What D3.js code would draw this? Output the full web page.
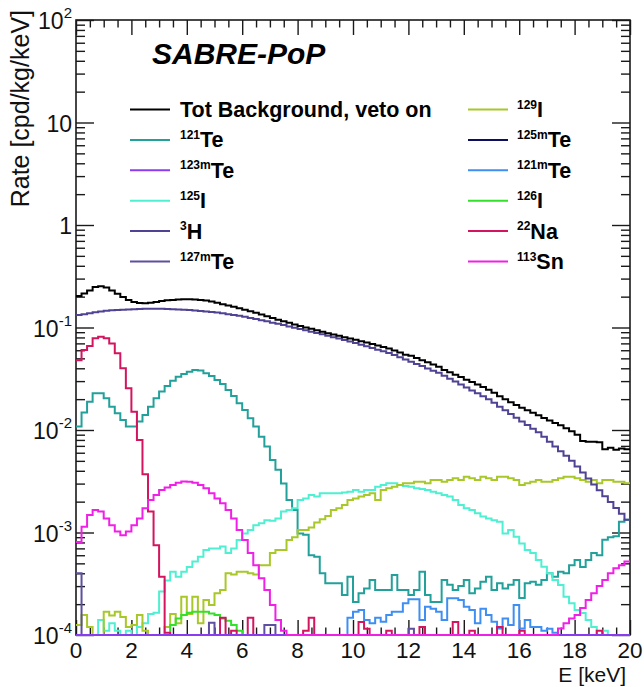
<!DOCTYPE html>
<html>
<head>
<meta charset="utf-8">
<script src="https://cdn.jsdelivr.net/npm/d3@7"></script>
<style>
  html, body { margin: 0; padding: 0; background: #fff; }
  svg { display: block; font-family: "Liberation Sans", Arial, Helvetica, sans-serif; }
</style>
</head>
<body>
<svg id="chart" width="644" height="687"></svg>
<script>
// Binning of the energy spectra (keV)
const energyRange = [0, 20];
const binWidth = 0.2;
const rateDomain = [1e-4, 1e2];

// Axis ticks
const xTickValues = [0, 2, 4, 6, 8, 10, 12, 14, 16, 18, 20];
const xTickLabels = ["0", "2", "4", "6", "8", "10", "12", "14", "16", "18", "20"];
const yTickValues = [1e-4, 1e-3, 1e-2, 1e-1, 1, 10, 100];
const yTickLabels = [["10", "-4"], ["10", "-3"], ["10", "-2"], ["10", "-1"], ["1", ""], ["10", ""], ["10", "2"]];

// Rates per 0.2 keV bin [cpd/kg/keV]
const totBackground = [
  0.203, 0.215, 0.229, 0.248, 0.253, 0.246, 0.230, 0.213, 0.198, 0.185,
  0.177, 0.173, 0.172, 0.174, 0.177, 0.181, 0.184, 0.186, 0.188, 0.189,
  0.189, 0.188, 0.186, 0.183, 0.179, 0.174, 0.169, 0.164, 0.159, 0.154,
  0.149, 0.144, 0.139, 0.134, 0.129, 0.124, 0.119, 0.115, 0.111, 0.107,
  0.1035, 0.100, 0.097, 0.094, 0.091, 0.088, 0.0855, 0.083, 0.0805, 0.078,
  0.0758, 0.0735, 0.0712, 0.069, 0.0668, 0.0646, 0.0624, 0.0596, 0.0569, 0.0541,
  0.053, 0.0505, 0.048, 0.0457, 0.0435, 0.0413, 0.0385, 0.0365, 0.0346, 0.0328,
  0.031, 0.0294, 0.0278, 0.0262, 0.0247, 0.0231, 0.0214, 0.0200, 0.0187, 0.0175,
  0.0165, 0.0156, 0.0147, 0.0139, 0.0131, 0.0124, 0.0117, 0.0111, 0.0104, 0.0097,
  0.0090, 0.0078, 0.0077, 0.0077, 0.0076, 0.0065, 0.0067, 0.0064, 0.0066, 0.0065
];
const te121 = [
  0.0108, 0.0148, 0.0189, 0.0228, 0.0228, 0.0204, 0.0169, 0.0146, 0.0125, 0.0108,
  0.0108, 0.0121, 0.0140, 0.0169, 0.0204, 0.0237, 0.0269, 0.0303, 0.0331, 0.0352,
  0.0371, 0.0385, 0.0380, 0.0357, 0.0336, 0.0308, 0.0281, 0.0245, 0.0215, 0.0182,
  0.0157, 0.0130, 0.0108, 0.0086, 0.0069, 0.0051, 0.0041, 0.0030, 0.00207, 0.00166,
  0.00098, 0.00095, 0.00060, 0.00058, 0.00040, 0.00032, 0.00032, 0.00032, 0.000245, 0.00037,
  0.00021, 0.000255, 0.000285, 0.000344, 0.000275, 0.000275, 0.000275, 0.000385, 0.000275, 0.000275,
  0.000245, 0.000275, 0.000415, 0.000245, 0.00021, 0.00021, 0.000344, 0.00031, 0.000275, 0.0003,
  0.000344, 0.000255, 0.000285, 0.00033, 0.00037, 0.000275, 0.00032, 0.000285, 0.00031, 0.000344,
  0.00023, 0.00032, 0.00033, 0.00031, 0.000344, 0.0004, 0.00037, 0.000415, 0.0004, 0.00048,
  0.00054, 0.00046, 0.00054, 0.00063, 0.0006, 0.00085, 0.0009, 0.00092, 0.00127, 0.00133
];
const te123m = [
  0, 0, 0, 0, 0, 0, 0, 0, 0, 0, 0, 0, 0, 0, 0, 0, 0, 0, 0, 0,
  0, 0, 0, 0, 0, 0, 0, 0, 0, 0, 0, 0, 0, 0, 0, 0, 0, 0, 0, 0,
  0, 0, 0, 0, 0, 0, 0, 0, 0, 0, 0, 0, 0, 0, 0, 0, 0, 0, 0, 0,
  0, 0, 0, 0, 0, 0, 0, 0, 0, 0, 0, 0, 0, 0, 0, 0, 0, 0, 0, 0,
  0, 0, 0, 0, 0, 0, 0, 0, 0, 0, 0, 0, 0, 0, 0, 0, 0, 0, 0, 0
];
const i125 = [
  0, 0, 0, 0, 0.00014, 0.00011, 0.00013, 0.00011, 0, 0.00011,
  0, 0.00012, 0.00013, 0.00016, 0.000165, 0.000265, 0.00034, 0.000415, 0.00037, 0.000415,
  0.00046, 0.00052, 0.00058, 0.000675, 0.0007, 0.0007, 0.00073, 0.00063, 0.0007, 0.000845,
  0.00098, 0.00106, 0.00118, 0.00123, 0.00132, 0.0013, 0.00137, 0.0016, 0.00166, 0.00172,
  0.00207, 0.00215, 0.00232, 0.00224, 0.00241, 0.00241, 0.00241, 0.00241, 0.00245, 0.0025,
  0.0026, 0.0025, 0.0026, 0.0026, 0.0028, 0.0029, 0.00302, 0.00302, 0.0029, 0.00285,
  0.0028, 0.0027, 0.00265, 0.0026, 0.0025, 0.00241, 0.00232, 0.00224, 0.00207, 0.00185,
  0.00172, 0.00166, 0.00154, 0.00143, 0.00137, 0.00132, 0.00127, 0.00098, 0.00106, 0.00091,
  0.00078, 0.000675, 0.00063, 0.00054, 0.000464, 0.0004, 0.000344, 0.000307, 0.000236, 0.000204,
  0.000175, 0.000164, 0.00014, 0.00012, 0, 0.00011, 0, 0, 0, 0
];
const h3 = [
  0.1325, 0.135, 0.138, 0.141, 0.1435, 0.1455, 0.147, 0.148, 0.149, 0.150,
  0.151, 0.1515, 0.152, 0.152, 0.152, 0.152, 0.1515, 0.151, 0.150, 0.149,
  0.148, 0.1465, 0.145, 0.1435, 0.142, 0.140, 0.1375, 0.135, 0.1325, 0.130,
  0.127, 0.124, 0.121, 0.118, 0.115, 0.1115, 0.1085, 0.1055, 0.1025, 0.0995,
  0.0965, 0.0938, 0.091, 0.0883, 0.0857, 0.083, 0.0805, 0.078, 0.0755, 0.073,
  0.0705, 0.068, 0.0655, 0.063, 0.0607, 0.0585, 0.0564, 0.0538, 0.0512, 0.0488,
  0.0464, 0.0441, 0.042, 0.0399, 0.0379, 0.0361, 0.0339, 0.0317, 0.0297, 0.0278,
  0.026, 0.0243, 0.0228, 0.0213, 0.0199, 0.0184, 0.0169, 0.0156, 0.0143, 0.0132,
  0.0121, 0.0112, 0.0103, 0.0095, 0.0086, 0.0077, 0.0069, 0.0062, 0.0056, 0.005,
  0.0044, 0.00384, 0.00336, 0.00294, 0.00258, 0.00226, 0.00198, 0.00173, 0.00152, 0.00133
];
const te127m = [
  0.0004, 0, 0, 0, 0, 0, 0, 0, 0, 0, 0, 0, 0, 0, 0, 0, 0, 0, 0, 0,
  0, 0, 0, 0, 0.000132, 0, 0, 0, 0, 0, 0, 0, 0, 0, 0.000125, 0.000125, 0, 0, 0, 0,
  0, 0, 0, 0, 0, 0, 0, 0, 0, 0, 0, 0, 0, 0, 0, 0, 0, 0, 0, 0,
  0.000115, 0, 0, 0, 0, 0, 0, 0, 0, 0, 0, 0, 0, 0, 0, 0, 0, 0, 0, 0,
  0, 0, 0, 0, 0, 0, 0, 0, 0, 0, 0, 0, 0, 0, 0, 0, 0, 0, 0, 0
];
const i129 = [
  0.000125, 0.000157, 0.00012, 0, 0, 0.000169, 0.000155, 0.000169, 0.00015, 0.00012,
  0.000125, 0.000157, 0.00011, 0, 0, 0, 0.00012, 0.00016, 0.00013, 0.000236,
  0.00016, 0.000236, 0.00013, 0.00022, 0.000196, 0.000255, 0.000275, 0.0004, 0.00039, 0.000415,
  0.000415, 0.0004, 0.00039, 0.00048, 0.00048, 0.00063, 0.000675, 0.000675, 0.000845, 0.0009,
  0.00106, 0.00106, 0.00112, 0.00125, 0.00135, 0.00145, 0.00166, 0.00172, 0.00185, 0.00207,
  0.00215, 0.00224, 0.00232, 0.00241, 0.00207, 0.0026, 0.0027, 0.0028, 0.0029, 0.00302,
  0.00302, 0.00313, 0.00313, 0.00302, 0.00325, 0.00325, 0.00313, 0.00325, 0.00338, 0.00325,
  0.0035, 0.00338, 0.00325, 0.0035, 0.00338, 0.00325, 0.0035, 0.0035, 0.00338, 0.00325,
  0.0029, 0.00302, 0.00313, 0.00325, 0.00313, 0.00313, 0.00325, 0.00338, 0.0035, 0.0035,
  0.00338, 0.00325, 0.00313, 0.00325, 0.00302, 0.00325, 0.00325, 0.00313, 0.00313, 0.00302
];
const te125m = [
  0, 0, 0, 0, 0, 0, 0, 0, 0, 0, 0, 0, 0, 0, 0, 0, 0, 0, 0, 0,
  0, 0, 0, 0, 0, 0, 0, 0, 0, 0, 0, 0, 0, 0, 0, 0, 0, 0, 0, 0,
  0, 0, 0, 0, 0, 0, 0, 0, 0, 0, 0, 0, 0, 0, 0, 0, 0, 0, 0, 0,
  0, 0, 0, 0, 0, 0, 0, 0, 0, 0, 0, 0, 0, 0, 0, 0, 0, 0, 0, 0,
  0, 0, 0, 0, 0, 0, 0, 0, 0, 0, 0, 0, 0, 0, 0, 0, 0, 0, 0, 0
];
const te121m = [
  0, 0, 0, 0, 0, 0, 0, 0, 0, 0, 0, 0, 0, 0, 0, 0, 0, 0, 0, 0,
  0, 0, 0, 0, 0, 0, 0, 0, 0, 0, 0, 0, 0, 0, 0, 0, 0, 0, 0, 0,
  0, 0, 0, 0, 0, 0, 0, 0, 0, 0.000147,
  0.000169, 0.000175, 0.00014, 0.00013, 0.000147, 0.000135, 0.000157, 0.000169, 0.000169, 0.000204,
  0.000223, 0.000223, 0.00014, 0.000189, 0.00018, 0.000169, 0.00014, 0.000228, 0.000228, 0.00022,
  0.000189, 0.000175, 0.00013, 0.00018, 0.000157, 0.000135, 0.000116, 0.000145, 0.000125, 0.000196,
  0.000116, 0.00014, 0.00012, 0.00012, 0.00011, 0.000115, 0.000105, 0, 0, 0,
  0, 0, 0, 0, 0, 0, 0, 0, 0, 0
];
const i126 = [
  0, 0, 0, 0, 0, 0, 0, 0, 0, 0, 0, 0, 0, 0, 0, 0, 0, 0.000125, 0.000145, 0.000157,
  0.000165, 0.000169, 0.000169, 0.000169, 0.000162, 0.000157, 0.000145, 0.000138, 0.000125, 0.00011,
  0, 0, 0, 0, 0, 0, 0, 0, 0, 0, 0, 0, 0, 0, 0, 0, 0, 0, 0, 0,
  0, 0, 0, 0, 0, 0, 0, 0, 0, 0, 0, 0, 0, 0, 0, 0, 0, 0, 0, 0,
  0, 0, 0, 0, 0, 0, 0, 0, 0, 0, 0, 0, 0, 0, 0, 0, 0, 0, 0, 0
];
const na22 = [
  0.048, 0.0603, 0.066, 0.0784, 0.0813, 0.0784, 0.070, 0.056, 0.040, 0.0255,
  0.0151, 0.008, 0.0037, 0.0016, 0.00075, 0.00037, 0.000105, 0, 0, 0,
  0, 0, 0, 0, 0, 0, 0.000147, 0, 0.00011, 0,
  0, 0.000147, 0, 0, 0, 0, 0, 0, 0, 0,
  0, 0.00011, 0.000147, 0, 0, 0, 0, 0, 0, 0,
  0, 0.000134, 0.000115, 0, 0, 0, 0.00011, 0, 0, 0,
  0, 0, 0.00012, 0, 0, 0, 0, 0, 0.000134, 0,
  0, 0.00011, 0, 0, 0, 0, 0.00012, 0, 0, 0,
  0.00011, 0, 0, 0, 0, 0, 0, 0, 0, 0,
  0, 0, 0, 0, 0.00011, 0, 0, 0, 0, 0
];
const sn113 = [
  0.00081, 0.00114, 0.00148, 0.00166, 0.0016, 0.00137, 0.00118, 0.00102, 0.00094, 0.00102,
  0.00118, 0.00137, 0.00172, 0.00207, 0.00232, 0.0026, 0.00275, 0.0029, 0.00306, 0.00315,
  0.00312, 0.00306, 0.0029, 0.0027, 0.00241, 0.00215, 0.00193, 0.00166, 0.00137, 0.00106,
  0.000845, 0.00063, 0.00048, 0.000357, 0.000275, 0.000196, 0.00014, 0.00011, 0, 0,
  0, 0, 0, 0, 0, 0, 0, 0, 0, 0, 0, 0, 0, 0, 0, 0, 0, 0, 0, 0,
  0, 0, 0, 0, 0, 0, 0, 0, 0, 0, 0, 0, 0, 0, 0, 0, 0, 0, 0, 0,
  0, 0, 0, 0, 0, 0, 0, 0.000116, 0.00013, 0.000145,
  0.000157, 0.000183, 0.00022, 0.000255, 0.0003, 0.000344, 0.0004, 0.000447, 0.00048, 0.00052
];

// Series: legend text (isotope mass number as superscript), colour, values
const series = {
  tot:    { sup: "",     label: "Tot Background, veto on", color: "#000000", values: totBackground },
  te121:  { sup: "121",  label: "Te", color: "#22a09a", values: te121 },
  te123m: { sup: "123m", label: "Te", color: "#8a3df0", values: te123m },
  i125:   { sup: "125",  label: "I",  color: "#4ff0d2", values: i125 },
  h3:     { sup: "3",    label: "H",  color: "#4f4394", values: h3 },
  te127m: { sup: "127m", label: "Te", color: "#5e4f9f", values: te127m },
  i129:   { sup: "129",  label: "I",  color: "#a8c82a", values: i129 },
  te125m: { sup: "125m", label: "Te", color: "#0e0e5e", values: te125m },
  te121m: { sup: "121m", label: "Te", color: "#3f8ff2", values: te121m },
  i126:   { sup: "126",  label: "I",  color: "#33e02a", values: i126 },
  na22:   { sup: "22",   label: "Na", color: "#d3155f", values: na22 },
  sn113:  { sup: "113",  label: "Sn", color: "#f020e6", values: sn113 }
};
const drawOrder = ["te121", "i125", "i129", "te125m", "te121m", "i126", "na22", "h3", "tot", "te127m", "te123m", "sn113"];
const legendColumns = [
  ["tot", "te121", "te123m", "i125", "h3", "te127m"],
  ["i129", "te125m", "te121m", "i126", "na22", "sn113"]
];

const svg = d3.select("#chart");
const frame = { left: 76, right: 630, top: 20, bottom: 635 };

const x = d3.scaleLinear().domain(energyRange).range([frame.left, frame.right]);
const y = d3.scaleLog().domain(rateDomain).range([frame.bottom, frame.top]);

const axisColor = "#1a1a1a";
const xMinor = d3.range(energyRange[0], energyRange[1] + 1e-9, 0.5).filter(v => Math.abs(v / 2 - Math.round(v / 2)) > 1e-6);
const yMinor = [];
for (let d = -4; d < 2; d++) for (let m = 2; m <= 9; m++) yMinor.push(m * Math.pow(10, d));

function styleAxis(g) {
  g.selectAll("path.domain").remove();
  g.selectAll("line").attr("stroke", axisColor).attr("stroke-width", 1.4);
  g.selectAll("text").remove();
}

// Ticks on all four sides, pointing inward
svg.append("g").attr("transform", `translate(0,${frame.bottom})`)
  .call(d3.axisBottom(x).tickValues(xTickValues).tickSize(-15).tickSizeOuter(0)).call(styleAxis);
svg.append("g").attr("transform", `translate(0,${frame.bottom})`)
  .call(d3.axisBottom(x).tickValues(xMinor).tickSize(-7.5).tickSizeOuter(0)).call(styleAxis);
svg.append("g").attr("transform", `translate(0,${frame.top})`)
  .call(d3.axisTop(x).tickValues(xTickValues).tickSize(-15).tickSizeOuter(0)).call(styleAxis);
svg.append("g").attr("transform", `translate(0,${frame.top})`)
  .call(d3.axisTop(x).tickValues(xMinor).tickSize(-7.5).tickSizeOuter(0)).call(styleAxis);
svg.append("g").attr("transform", `translate(${frame.left},0)`)
  .call(d3.axisLeft(y).tickValues(yTickValues).tickSize(-18).tickSizeOuter(0)).call(styleAxis);
svg.append("g").attr("transform", `translate(${frame.left},0)`)
  .call(d3.axisLeft(y).tickValues(yMinor).tickSize(-9).tickSizeOuter(0)).call(styleAxis);
svg.append("g").attr("transform", `translate(${frame.right},0)`)
  .call(d3.axisRight(y).tickValues(yTickValues).tickSize(-18).tickSizeOuter(0)).call(styleAxis);
svg.append("g").attr("transform", `translate(${frame.right},0)`)
  .call(d3.axisRight(y).tickValues(yMinor).tickSize(-9).tickSizeOuter(0)).call(styleAxis);

svg.append("rect")
  .attr("x", frame.left).attr("y", frame.top)
  .attr("width", frame.right - frame.left).attr("height", frame.bottom - frame.top)
  .attr("fill", "none").attr("stroke", axisColor).attr("stroke-width", 1.6);

// Tick labels
svg.append("g").selectAll("text").data(xTickValues).join("text")
  .attr("x", d => x(d)).attr("y", 657.5)
  .attr("text-anchor", "middle").attr("font-size", 22.5).attr("fill", "#111")
  .text((d, i) => xTickLabels[i]);

const yLab = svg.append("g").selectAll("text").data(yTickValues).join("text")
  .attr("x", 72).attr("y", d => y(d) + 9)
  .attr("text-anchor", "end").attr("font-size", 23).attr("fill", "#111");
yLab.each(function (d, i) {
  const t = d3.select(this);
  const [base, exp] = yTickLabels[i];
  t.append("tspan").text(base);
  if (exp) t.append("tspan").attr("font-size", 15).attr("dy", -11).text(exp);
});

// Axis titles
svg.append("text").attr("x", 626).attr("y", 682)
  .attr("text-anchor", "end").attr("font-size", 21).attr("fill", "#111").text("E [keV]");
svg.append("text").attr("transform", "translate(29,10) rotate(-90)")
  .attr("text-anchor", "end").attr("font-size", 25).attr("fill", "#111").text("Rate [cpd/kg/keV]");

// Title
svg.append("text").attr("x", 152).attr("y", 64)
  .attr("font-size", 30).attr("font-weight", "bold").attr("font-style", "italic")
  .attr("fill", "#000").text("SABRE-PoP");

// Histograms (step lines), empty bins sit on the lower edge of the frame
svg.append("clipPath").attr("id", "plotClip").append("rect")
  .attr("x", frame.left).attr("y", frame.top)
  .attr("width", frame.right - frame.left).attr("height", frame.bottom - frame.top + 2);

const stepLine = d3.line()
  .x(d => x(d[0]))
  .y(d => y(Math.max(d[1], rateDomain[0])))
  .curve(d3.curveStepAfter);

const histG = svg.append("g").attr("clip-path", "url(#plotClip)");
drawOrder.forEach(key => {
  const s = series[key];
  const pts = s.values.map((v, i) => [energyRange[0] + i * binWidth, v]);
  pts.push([energyRange[1], s.values[s.values.length - 1]]);
  histG.append("path").datum(pts)
    .attr("d", stepLine)
    .attr("fill", "none")
    .attr("stroke", s.color)
    .attr("stroke-width", 2)
    .attr("stroke-linejoin", "miter");
});

// Legend
const legendRow0 = 109.5, legendStep = 30.4;
const legendCols = [{ x0: 130, x1: 170, tx: 180 }, { x0: 468, x1: 508, tx: 517 }];
legendColumns.forEach((col, ci) => {
  const c = legendCols[ci];
  col.forEach((key, ri) => {
    const s = series[key];
    const ly = legendRow0 + ri * legendStep;
    svg.append("line").attr("x1", c.x0).attr("x2", c.x1).attr("y1", ly).attr("y2", ly)
      .attr("stroke", s.color).attr("stroke-width", 2);
    const t = svg.append("text").attr("x", c.tx).attr("y", ly + 7.5)
      .attr("font-size", 21.5).attr("font-weight", "bold").attr("fill", "#000");
    if (s.sup) {
      t.append("tspan").attr("font-size", 12).attr("dy", -8.5).text(s.sup);
      t.append("tspan").attr("dy", 8.5).text(s.label);
    } else {
      t.append("tspan").text(s.label);
    }
  });
});
</script>
</body>
</html>
